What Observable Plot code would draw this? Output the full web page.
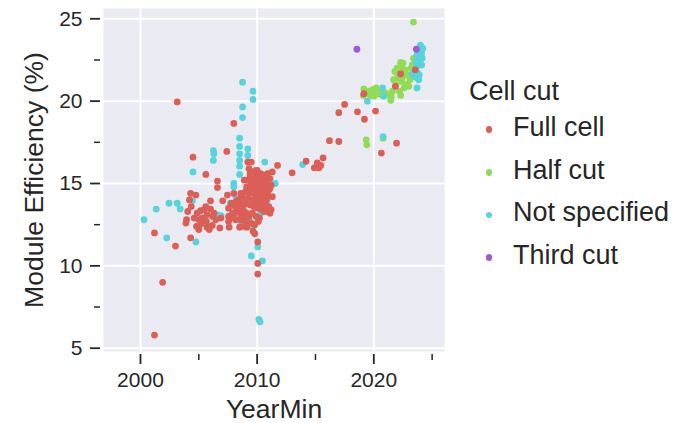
<!DOCTYPE html>
<html><head><meta charset="utf-8">
<script src="https://cdn.jsdelivr.net/npm/d3@7"></script>
<script src="https://cdn.jsdelivr.net/npm/@observablehq/plot@0.6"></script>
<style>
body{margin:0;background:#fff;}
#wrap{position:relative;width:677px;height:423px;font-family:Arial,"Liberation Sans",sans-serif;color:#262626;}
.lg{position:absolute;font-size:27px;line-height:27px;white-space:nowrap;color:#262626;}
.dotk{position:absolute;width:6.8px;height:6.8px;border-radius:50%;}
</style></head><body><div id="wrap"></div>
<script>
const categories = ["Full cell", "Half cut", "Not specified", "Third cut"];
const palette = ["#db5f57", "#91db57", "#57d3db", "#a157db"];
const legendTitle = "Cell cut";
const xLabel = "YearMin";
const yLabel = "Module Efficiency (%)";
const xTicksMajor = [2000, 2010, 2020];
const xTicksMinor = [2005, 2015, 2025];
const yTicksMajor = [5, 10, 15, 20, 25];
const yTicksMinor = [7.5, 12.5, 17.5, 22.5];

// [YearMin, efficiency]
const fullCell = [
 [2001.2,5.8],[2001.9,9.0],[2001.2,12.0],[2003.0,11.2],[2003.15,19.95],[2004.3,11.7],
 [2004.3,14.4],[2004.75,14.3],[2004.2,14.0],[2004.35,13.6],[2004.05,13.3],[2003.95,12.8],[2003.9,12.6],
 [2004.85,13.2],[2005.15,13.35],[2005.45,13.4],[2005.0,12.8],[2004.8,12.4],[2005.0,12.2],[2006.0,13.95],
 [2006.0,13.45],[2005.7,13.1],[2005.65,12.7],[2005.7,12.35],[2006.15,12.45],[2006.45,12.8],[2006.6,15.15],
 [2006.6,14.75],[2007.05,13.95],[2007.55,13.0],[2007.55,12.7],[2007.6,12.35],[2007.45,14.3],[2007.55,13.5],
 [2008.0,14.4],[2008.6,14.4],[2008.5,12.35],[2008.85,12.4],[2009.1,12.35],[2008.15,12.8],[2008.6,12.8],
 [2009.65,12.1],[2009.8,11.95],[2010.05,11.45],[2010.05,10.15],[2010.05,9.5],[2004.5,16.6],[2005.6,15.55],
 [2007.4,16.95],[2008.0,18.65],[2009.2,16.3],[2011.75,16.1],[2009.9,15.8],[2011.3,15.7],
 [2005.3,12.9],[2005.6,13.6],[2006.3,13.2],[2006.9,12.9],[2005.2,12.55],[2006.8,12.3],[2004.6,12.9],
 [2005.9,12.2],[2006.2,13.0],
 [2009.4,15.4],[2009.6,15.3],[2009.9,15.45],[2010.1,15.35],[2010.3,15.2],[2010.5,15.1],[2010.7,15.3],
 [2010.9,15.0],[2009.5,15.0],[2009.8,15.1],[2010.0,15.0],[2010.2,14.9],[2010.4,14.8],[2010.6,14.95],
 [2010.8,14.7],[2011.0,14.6],[2009.4,14.7],[2009.7,14.8],[2009.9,14.6],[2010.1,14.7],[2010.3,14.5],
 [2010.5,14.6],[2010.7,14.4],[2010.9,14.3],[2009.3,14.4],[2009.5,14.5],[2009.8,14.3],[2010.0,14.4],
 [2010.2,14.2],[2010.4,14.35],[2010.6,14.15],[2010.8,14.0],[2009.2,14.1],[2009.6,14.0],[2009.9,13.9],
 [2010.1,14.05],[2010.3,13.8],[2010.5,13.9],[2010.7,13.7],[2011.0,13.6],[2009.0,13.8],[2009.4,13.7],
 [2009.7,13.6],[2010.0,13.5],[2010.2,13.65],[2010.4,13.4],[2010.9,13.3],[2011.2,13.4],[2011.1,13.2],
 [2010.6,13.3],[2008.7,14.2],[2008.9,14.0],[2008.6,13.8],[2008.4,14.0],[2008.2,13.9],[2008.8,13.6],
 [2008.5,13.5],[2008.9,13.3],[2008.3,13.3],[2008.6,13.1],[2009.1,13.2],[2009.3,13.0],[2009.6,13.2],
 [2009.9,13.0],[2010.2,12.9],[2009.0,12.7],[2008.8,12.9],[2009.5,12.6],[2009.8,12.5],[2010.1,12.7],
 [2008.1,13.6],[2007.9,13.2],[2007.8,13.8],[2008.0,13.0],[2007.7,12.9],[2009.4,15.6],[2009.6,15.7],
 [2010.0,15.8],[2010.3,15.6],[2010.6,15.5],[2009.2,15.2],[2009.1,14.8],[2008.9,15.2],[2009.0,14.5],
 [2011.2,14.9],[2011.3,14.2],[2011.1,15.3],[2010.9,15.6],[2009.5,16.3],[2009.3,15.9],[2011.1,14.7],
 [2013.0,15.65],[2014.2,16.35],[2014.9,15.95],[2015.15,16.25],[2015.3,15.95],[2015.45,16.1],[2015.65,16.55],
 [2016.2,17.6],[2017.0,17.55],[2017.0,19.3],[2017.5,19.8],[2018.6,19.35],[2019.2,18.9],[2020.15,19.4],
 [2019.15,20.45],[2020.65,16.85],[2021.95,17.45],[2021.85,20.9],[2022.3,21.65],[2023.55,21.9]
];
const halfCut = [
 [2023.4,24.8],[2022.3,22.35],[2022.35,22.15],[2022.2,21.9],[2022.0,21.7],[2021.8,21.8],[2022.5,21.5],
 [2022.1,21.4],[2021.7,21.3],[2022.4,21.2],[2022.9,21.6],[2023.1,21.3],[2022.8,21.0],[2021.9,21.0],
 [2022.6,20.8],[2022.2,20.6],[2021.6,20.6],[2022.3,20.35],[2021.5,20.25],[2021.45,20.05],[2023.0,20.9],
 [2022.7,21.9],[2023.2,22.0],[2019.15,20.75],[2019.1,20.35],[2019.6,20.6],[2019.8,20.5],[2019.9,20.7],
 [2020.1,20.55],[2020.3,20.45],[2020.5,20.6],[2019.7,20.35],[2020.0,20.3],[2020.2,20.8],[2020.6,20.4],
 [2021.0,20.5],[2021.2,20.4],[2019.35,17.65],[2019.4,17.35],[2020.8,17.75],[2022.0,22.0],[2022.5,22.3],
 [2023.4,22.6],[2023.3,22.2]
];
const notSpecified = [
 [2000.3,12.8],[2001.35,13.45],[2002.45,13.8],[2003.15,13.8],[2003.4,13.45],[2002.25,11.7],[2004.75,11.45],
 [2004.5,15.7],[2004.45,13.95],[2005.15,12.8],[2006.25,17.0],[2006.3,16.8],[2006.25,16.4],[2006.6,13.1],
 [2006.9,13.05],[2008.0,15.0],[2008.0,14.8],[2008.5,17.75],[2008.5,17.25],[2008.5,16.8],[2008.5,16.4],
 [2008.5,16.05],[2008.5,15.55],[2008.75,21.15],[2009.65,20.6],[2009.65,20.1],[2008.75,19.65],[2008.75,19.0],
 [2009.2,17.1],[2009.2,16.7],[2010.65,16.3],[2011.55,15.0],[2011.0,13.5],[2009.6,12.3],[2010.05,11.15],
 [2009.5,10.6],[2010.45,10.3],[2010.15,6.75],[2010.25,6.6],[2013.9,16.15],[2008.3,13.4],[2008.6,12.5],
 [2009.3,12.9],[2010.3,13.2],[2010.8,13.9],[2009.0,13.9],[2008.2,14.1],[2007.7,13.8],
 [2019.45,20.0],[2020.75,20.8],[2020.85,20.3],[2020.8,17.85],[2023.7,20.8],[2023.3,21.65],[2023.6,21.45],
 [2023.75,21.7],[2023.9,21.6],[2024.0,23.4],[2023.8,23.1],[2023.9,22.95],[2024.1,22.9],[2023.7,22.8],
 [2024.0,22.7],[2023.8,22.55],[2024.15,22.6],[2023.6,22.4],[2023.9,22.3],[2024.1,22.2],[2023.7,22.1],
 [2024.2,23.2],[2023.5,21.5],[2023.85,21.3]
];
const thirdCut = [[2018.55,23.15],[2023.65,23.15]];

const seriesValues = [fullCell, halfCut, notSpecified, thirdCut];
const drawOrder = [1, 2, 0, 3];
const rows = drawOrder.flatMap(i => seriesValues[i].map(([x, y]) => ({x, y, cut: categories[i]})));

const ink = "#262626";
const chart = Plot.plot({
  width: 677, height: 423,
  marginLeft: 103, marginRight: 233, marginTop: 8, marginBottom: 72,
  style: {background: "transparent", color: ink, fontFamily: "Arial, 'Liberation Sans', sans-serif"},
  x: {domain: [1996.83, 2026.06]},
  y: {domain: [4.8, 25.625]},
  color: {domain: categories, range: palette},
  marks: [
    Plot.frame({fill: "#eaeaf2", stroke: null}),
    Plot.gridX(xTicksMajor, {stroke: "#fff", strokeOpacity: 1, strokeWidth: 2}),
    Plot.gridY(yTicksMajor, {stroke: "#fff", strokeOpacity: 1, strokeWidth: 2}),
    Plot.axisX({ticks: xTicksMajor, tickSize: 10, tickPadding: 8, dy: 3, strokeWidth: 1.8, fontSize: 21, label: null, tickFormat: d => String(d)}),
    Plot.axisX({ticks: xTicksMinor, tickSize: 6, dy: 3, strokeWidth: 1.5, tickFormat: () => "", label: null}),
    Plot.axisY({ticks: yTicksMajor, tickSize: 10, tickPadding: 8, dx: -3, strokeWidth: 1.8, fontSize: 21, label: null}),
    Plot.axisY({ticks: yTicksMinor, tickSize: 6, dx: -3, strokeWidth: 1.5, tickFormat: () => "", label: null}),
    Plot.axisX({ticks: [], tickSize: 0, fontSize: 26.5, label: xLabel, labelAnchor: "center", labelOffset: 66, labelArrow: "none"}),
    Plot.axisY({ticks: [], tickSize: 0, fontSize: 26.5, label: yLabel, labelAnchor: "center", labelOffset: 79, labelArrow: "none"}),
    Plot.dot(rows, {x: "x", y: "y", fill: "cut", r: 3.4, stroke: null})
  ]
});
const wrap = document.getElementById("wrap");
wrap.appendChild(chart);

// legend
const t = document.createElement("div");
t.className = "lg"; t.textContent = legendTitle;
t.style.left = "469px"; t.style.top = "78px";
wrap.appendChild(t);
categories.forEach((c, i) => {
  const base = 137 + i * 42.6;
  const d = document.createElement("div");
  d.className = "dotk"; d.style.background = palette[i];
  d.style.left = "485.6px"; d.style.top = (base - 10.6) + "px";
  wrap.appendChild(d);
  const s = document.createElement("div");
  s.className = "lg"; s.textContent = c;
  s.style.left = "513px"; s.style.top = (base - 22.8) + "px";
  wrap.appendChild(s);
});
</script></body></html>
